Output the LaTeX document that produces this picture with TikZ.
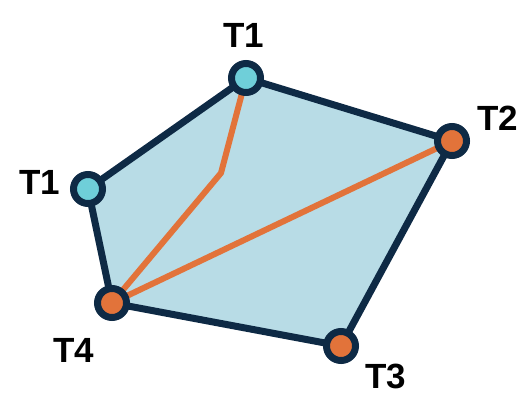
\documentclass[tikz,border=0pt]{standalone}
\usepackage{fontspec}
\setmainfont{Liberation Sans}
\definecolor{navy}{HTML}{0E2A45}
\definecolor{fillblue}{HTML}{B8DCE6}
\definecolor{cyanin}{HTML}{6FCFD9}
\definecolor{orng}{HTML}{E2733A}
\tikzset{
  vtx/.style={circle, draw=navy, line width=7pt, minimum size=29pt, inner sep=0pt},
  lbl/.style={font=\bfseries\fontsize{35}{35}\selectfont, text=black, inner sep=0pt},
  edge/.style={draw=navy, line width=7pt, line join=round},
  diag/.style={draw=orng, line width=6pt, line cap=round, line join=round}
}
\begin{document}
\begin{tikzpicture}[x=1pt,y=-1pt]
\useasboundingbox (0,0) rectangle (526,396);
\coordinate (a) at (246,78);
\coordinate (b) at (452,141);
\coordinate (c) at (341,346);
\coordinate (d) at (112,303);
\coordinate (e) at (88,189);
\coordinate (m) at (221,173);
\fill[fillblue] (a) -- (b) -- (c) -- (d) -- (e) -- cycle;
\draw[diag] (d) -- (m) -- (a);
\draw[diag] (d) -- (b);
\draw[edge] (a) -- (b) -- (c) -- (d) -- (e) -- cycle;
\node[vtx, fill=cyanin] (na) at (a) {};
\node[vtx, fill=orng] (nb) at (b) {};
\node[vtx, fill=orng] (nc) at (c) {};
\node[vtx, fill=orng] (nd) at (d) {};
\node[vtx, fill=cyanin] (ne) at (e) {};
\node[lbl] (la) at (244,35) {T1};
\node[lbl] (lb) at (498,118) {T2};
\node[lbl] (lc) at (386,376) {T3};
\node[lbl] (ld) at (74,350) {T4};
\node[lbl] (le) at (40,182) {T1};
\end{tikzpicture}
\end{document}
